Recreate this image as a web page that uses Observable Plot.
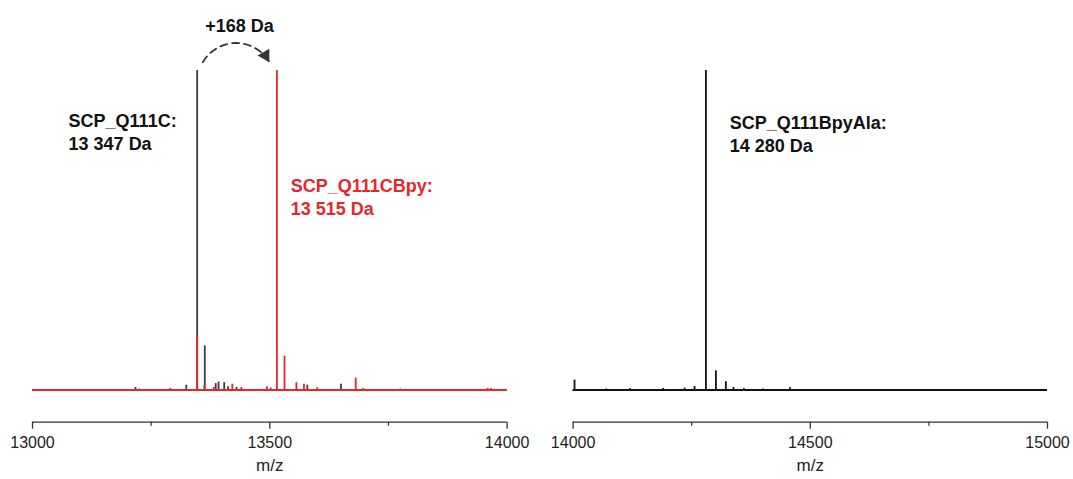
<!DOCTYPE html>
<html>
<head>
<meta charset="utf-8">
<script src="https://cdn.jsdelivr.net/npm/d3@7"></script>
<script src="https://cdn.jsdelivr.net/npm/@observablehq/plot@0.6"></script>
<style>
  html, body { margin: 0; padding: 0; background: #fff; }
  #wrap { position: relative; width: 1073px; height: 479px; overflow: hidden; }
  #wrap svg { position: absolute; top: 0; }
</style>
</head>
<body>
<div id="wrap"></div>
<script>
// ---- data ----
const leftMassBlack = [13217, 13324, 13347, 13363, 13386, 13392, 13404, 13412, 13430, 13579, 13650];
const leftIntBlack  = [0.8, 1.5, 100, 13.8, 2.0, 2.5, 2.3, 1.0, 0.8, 1.5, 1.8];
const leftMassRed = [13225, 13290, 13347, 13362, 13382, 13421, 13440, 13494, 13502, 13515, 13531, 13556, 13572, 13600, 13681, 13697, 13775, 13959, 13966];
const leftIntRed  = [0.3, 0.5, 16.6, 1.4, 0.8, 1.8, 0.8, 1.0, 0.6, 100, 10.6, 2.3, 1.8, 0.7, 3.7, 0.5, 0.3, 0.5, 0.5];
const rightMass = [14003, 14070, 14120, 14190, 14235, 14256, 14280, 14301, 14322, 14338, 14360, 14400, 14457];
const rightInt  = [3.1, 0.3, 0.4, 0.5, 0.6, 1.1, 100, 6.0, 2.6, 0.8, 0.5, 0.3, 0.7];
const leftDomain = [13000, 14000];
const rightDomain = [14000, 15000];
const leftMajorTicks = [13000, 13500, 14000];
const leftMinorTicks = [13250, 13750];
const rightMajorTicks = [14000, 14500, 15000];
const rightMinorTicks = [14250, 14750];
const axisLabel = "m/z";
const leftLabels = [
  {x: 13076, y: 87.5, text: "SCP_Q111C:\n13 347 Da", color: "#111"},
  {x: 13544, y: 67.1, text: "SCP_Q111CBpy:\n13 515 Da", color: "#e5262d"}
];
const rightLabels = [
  {x: 14330, y: 86.8, text: "SCP_Q111BpyAla:\n14 280 Da", color: "#111"}
];
const shiftArrow = [{x1: 13359, y1: 102.6, x2: 13499, y2: 102.6}];
const shiftLabel = [{x: 13436, y: 114, text: "+168 Da"}];

const yDomain = [-10.08, 100];
const RED = "#e5262d";
const GREY = "#3c3c3c";
const FONT = "'Liberation Sans', Arial, sans-serif";

const toRows = (m, v) => m.map((d, i) => ({mass: d, inten: v[i]}));

function axisMarks(major, minor) {
  return [
    Plot.ruleY([yDomain[0]], {stroke: "#333", strokeWidth: 1.3}),
    Plot.axisX({ticks: major, tickSize: 7, tickPadding: 7, tickFormat: "d", fontSize: 16, stroke: "#333", strokeWidth: 1.3, fill: "#222", label: null}),
    Plot.axisX({ticks: minor, tickSize: 4, tickFormat: () => "", stroke: "#333", strokeWidth: 1.3, label: null}),
    Plot.text([axisLabel], {frameAnchor: "bottom", dy: 49, fontSize: 17, fill: "#222"})
  ];
}

const common = {
  height: 479,
  marginTop: 70,
  marginBottom: 57.3,
  style: {fontFamily: FONT, color: "#333", background: "transparent", overflow: "visible"},
};

const left = Plot.plot({
  ...common,
  width: 540,
  marginLeft: 32,
  marginRight: 33.4,
  x: {domain: leftDomain},
  y: {domain: yDomain, axis: null},
  marks: [
    Plot.ruleY([0], {stroke: GREY, strokeWidth: 2}),
    Plot.ruleX(toRows(leftMassBlack, leftIntBlack), {x: "mass", y1: 0, y2: "inten", stroke: GREY, strokeWidth: 1.8}),
    Plot.ruleY([0], {stroke: RED, strokeWidth: 2}),
    Plot.ruleX(toRows(leftMassRed, leftIntRed), {x: "mass", y1: 0, y2: "inten", stroke: RED, strokeWidth: 1.8}),
    Plot.text(leftLabels, {x: "x", y: "y", text: "text", fill: "color", textAnchor: "start", lineAnchor: "top", lineHeight: 1.28, fontSize: 18, fontWeight: "bold"}),
    Plot.arrow(shiftArrow, {x1: "x1", y1: "y1", x2: "x2", y2: "y2", bend: 60, headLength: 0, stroke: "#333", strokeWidth: 1.8, strokeDasharray: "7,5"}),
    Plot.dot(shiftArrow, {x: "x2", y: "y2", dx: -3.9, dy: -6.7, symbol: "triangle", r: 5, fill: "#333", stroke: "none", rotate: 150}),
    Plot.text(shiftLabel, {x: "x", y: "y", text: "text", fontSize: 18, fontWeight: "bold", fill: "#111"}),
    ...axisMarks(leftMajorTicks, leftMinorTicks)
  ]
});
left.style.left = "0px";

const right = Plot.plot({
  ...common,
  width: 533,
  marginLeft: 32.6,
  marginRight: 26,
  x: {domain: rightDomain},
  y: {domain: yDomain, axis: null},
  marks: [
    Plot.ruleY([0], {stroke: "#111", strokeWidth: 2}),
    Plot.ruleX(toRows(rightMass, rightInt), {x: "mass", y1: 0, y2: "inten", stroke: "#111", strokeWidth: 1.8}),
    Plot.text(rightLabels, {x: "x", y: "y", text: "text", fill: "color", textAnchor: "start", lineAnchor: "top", lineHeight: 1.28, fontSize: 18, fontWeight: "bold"}),
    ...axisMarks(rightMajorTicks, rightMinorTicks)
  ]
});
right.style.left = "540px";

document.getElementById("wrap").append(left, right);
</script>
</body>
</html>
